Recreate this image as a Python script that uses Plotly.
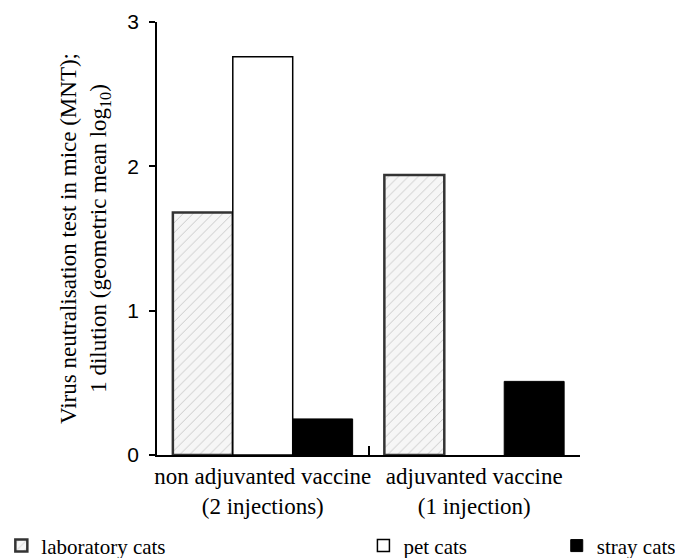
import plotly.graph_objects as go

categories = ["non adjuvanted vaccine<br>(2 injections)", "adjuvanted vaccine<br>(1 injection)"]
laboratory_cats = [1.68, 1.94]
pet_cats = [2.76, None]
stray_cats = [0.25, 0.51]
y_ticks = [0, 1, 2, 3]

serif = "Liberation Serif"
sans = "Liberation Sans"

fig = go.Figure()
fig.add_trace(go.Bar(
    x=categories, y=laboratory_cats, name="laboratory cats", showlegend=True,
    marker=dict(color="white",
                pattern=dict(shape="/", fgcolor="#8a8a8a", bgcolor="#f6f6f6", size=7, solidity=0.12),
                line=dict(color="#333333", width=2.5)),
    legend="legend",
))
fig.add_trace(go.Bar(
    x=categories, y=pet_cats, name="pet cats", showlegend=True,
    marker=dict(color="white", line=dict(color="black", width=1.5)),
    legend="legend2",
))
fig.add_trace(go.Bar(
    x=categories, y=stray_cats, name="stray cats", showlegend=True,
    marker=dict(color="black", line=dict(color="black", width=1)),
    legend="legend3",
))


def leg(x):
    return dict(x=x, xanchor="left", yanchor="middle", y=-0.21,
                font=dict(family=serif, size=21, color="black"),
                bgcolor="rgba(0,0,0,0)", itemwidth=30)


fig.update_layout(
    width=675, height=550,
    showlegend=True,
    margin=dict(l=149, r=103, t=14, b=103, autoexpand=False),
    paper_bgcolor="white", plot_bgcolor="white",
    barmode="group", bargap=0.15, bargroupgap=0.0,
    font=dict(family=serif, color="black", size=18),
    xaxis=dict(
        showline=True, linecolor="black", linewidth=1.5,
        ticks="inside", ticklen=9, tickcolor="black", tickwidth=1.5,
        tickson="boundaries", tickangle=0, automargin=False,
        ticklabelstandoff=0,
        tickfont=dict(family=serif, size=23, color="black"),
        showgrid=False, zeroline=False,
    ),
    yaxis=dict(
        range=[0, 3], tickvals=y_ticks, automargin=False,
        showline=True, linecolor="black", linewidth=1.5,
        ticks="outside", ticklen=6, tickcolor="black", tickwidth=1.5,
        ticklabelstandoff=6,
        tickfont=dict(family=sans, size=21, color="black"),
        showgrid=False, zeroline=False,
        title=dict(text="Virus neutralisation test in mice (MNT);<br>1 dilution (geometric mean log<sub>10</sub>)",
                   font=dict(family=serif, size=23, color="black"), standoff=14),
    ),
    yaxis2=dict(
        overlaying="y", range=[0, 3], tickvals=y_ticks, showticklabels=False,
        ticks="inside", ticklen=6, tickcolor="black", tickwidth=1.5, automargin=False,
        showline=False, showgrid=False, zeroline=False,
    ),
    legend=leg(-0.368),
    legend2=leg(0.488),
    legend3=leg(0.945),
)

fig.write_html("out.html")
